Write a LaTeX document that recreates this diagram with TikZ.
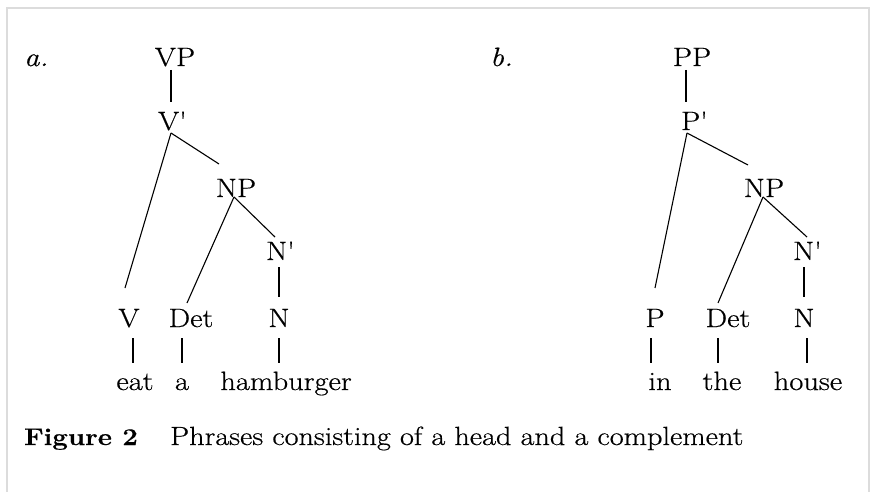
\documentclass[tikz,border=0pt]{standalone}
\usepackage{fontspec}
\setmainfont{Latin Modern Roman}[FakeStretch=1.15, FakeBold=0.5]
\usetikzlibrary{calc}
\definecolor{framegrey}{HTML}{DCDCDC}
\newcommand{\pr}{\textquotesingle}
\begin{document}
\begin{tikzpicture}[x=1pt,y=-1pt,
  lab/.style={inner sep=0pt, anchor=base, font=\fontsize{26.5}{30}\selectfont},
  captionstyle/.style={inner sep=0pt, anchor=base west, font=\fontsize{26.3}{30}\selectfont},
  conn/.style={draw=black, line width=1.1pt}]
\useasboundingbox (0,0) rectangle (870,492);
\draw[framegrey, line width=1.2pt] (7,492) -- (7,8) -- (869,8) -- (869,492);
% ---- tree a
\node[lab, anchor=base west] (la) at (24,66) {\itshape a.};
\node[lab] (VP) at (175,66) {VP};
\node[lab] (Vb) at (172,130) {V\pr};
\node[lab] (NPa) at (236,197) {NP};
\node[lab] (Nba) at (280,260) {N\pr};
\node[lab] (V) at (129,327) {V};
\node[lab] (Deta) at (191,327) {Det};
\node[lab] (Na) at (279,327) {N};
\node[lab] (eat) at (135,390) {eat};
\node[lab] (wa) at (182,390) {a};
\node[lab] (ham) at (286,390) {hamburger};
\draw[conn] ($(VP.base)+(-4,4)$) -- ($(Vb.base)+(-1,-28)$);
\draw[conn] ($(Vb.base)+(-1,3)$) -- ($(NPa.base)+(-17,-33)$);
\draw[conn] ($(Vb.base)+(-1,3)$) -- ($(V.base)+(-4,-39)$);
\draw[conn] ($(NPa.base)+(-2,0)$) -- ($(Deta.base)+(-4,-24)$);
\draw[conn] ($(NPa.base)+(-2,0)$) -- ($(Nba.base)+(-5,-23)$);
\draw[conn] ($(Nba.base)+(-1,7)$) -- ($(Na.base)+(0,-30)$);
\draw[conn] ($(V.base)+(4,11)$) -- ($(eat.base)+(-2,-27)$);
\draw[conn] ($(Deta.base)+(-9,11)$) -- ($(wa.base)+(0,-27)$);
\draw[conn] ($(Na.base)+(0,11)$) -- ($(ham.base)+(-7,-27)$);
% ---- tree b
\node[lab, anchor=base west] (lb) at (490,66) {\itshape b.};
\node[lab] (PP) at (692,66) {PP};
\node[lab] (Pb) at (694,130) {P\pr};
\node[lab] (NPb) at (764,197) {NP};
\node[lab] (Nbb) at (807,260) {N\pr};
\node[lab] (P) at (655,327) {P};
\node[lab] (Detb) at (728,327) {Det};
\node[lab] (Nb) at (804,327) {N};
\node[lab] (in) at (660,390) {in};
\node[lab] (the) at (722,390) {the};
\node[lab] (house) at (808,390) {house};
\draw[conn] ($(PP.base)+(-6,4)$) -- ($(Pb.base)+(-8,-28)$);
\draw[conn] ($(Pb.base)+(-7,3)$) -- ($(NPb.base)+(-16,-32)$);
\draw[conn] ($(Pb.base)+(-7,3)$) -- ($(P.base)+(0,-39)$);
\draw[conn] ($(NPb.base)+(-1,0)$) -- ($(Detb.base)+(-10,-24)$);
\draw[conn] ($(NPb.base)+(-1,0)$) -- ($(Nbb.base)+(0,-23)$);
\draw[conn] ($(Nbb.base)+(-3,7)$) -- ($(Nb.base)+(0,-30)$);
\draw[conn] ($(P.base)+(-4,11)$) -- ($(in.base)+(-9,-27)$);
\draw[conn] ($(Detb.base)+(-10,11)$) -- ($(the.base)+(-4,-27)$);
\draw[conn] ($(Nb.base)+(3,11)$) -- ($(house.base)+(-1,-27)$);
% ---- caption
\node[captionstyle, font=\bfseries\fontsize{24}{28}\selectfont] (fig) at (24,445) {Figure 2};
\node[captionstyle] (captext) at (170,445) {Phrases consisting of a head and a complement};
\end{tikzpicture}
\end{document}
